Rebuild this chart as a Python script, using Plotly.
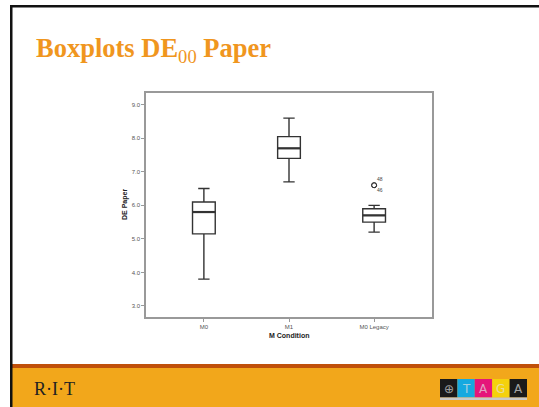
import plotly.graph_objects as go

# ---- data ----
categories = ["M0", "M1", "M0 Legacy"]
lower_whisker = [3.8, 6.7, 5.2]
q1_values = [5.15, 7.4, 5.5]
medians = [5.8, 7.7, 5.7]
q3_values = [6.1, 8.05, 5.9]
upper_whisker = [6.5, 8.6, 6.0]
outlier_category = [2, 2]
outlier_values = [6.6, 6.6]
outlier_labels = ["48", "46"]
y_ticks = [3.0, 4.0, 5.0, 6.0, 7.0, 8.0, 9.0]

W, H = 539, 407
L, R, T, B = 146, 432, 93, 317  # plot area in pixels


def px(x):
    return (x - L) / (R - L)


def py(y):
    return (B - y) / (B - T)


xs = list(range(len(categories)))
box_w = 0.267
line_col = "#333333"

fig = go.Figure()
fig.add_trace(go.Box(
    x=xs, q1=q1_values, median=medians, q3=q3_values,
    lowerfence=lower_whisker, upperfence=upper_whisker,
    width=box_w, whiskerwidth=0.5,
    fillcolor="white", line=dict(color=line_col, width=1.4),
    boxpoints=False, showlegend=False, hoverinfo="skip",
))
# thicker median lines (SPSS style)
for xi, m in zip(xs, medians):
    fig.add_trace(go.Scatter(
        x=[xi - box_w / 2, xi + box_w / 2], y=[m, m], mode="lines",
        line=dict(color=line_col, width=2.2), showlegend=False, hoverinfo="skip"))
# outliers
fig.add_trace(go.Scatter(
    x=outlier_category, y=outlier_values, mode="markers",
    marker=dict(symbol="circle-open", size=5, color=line_col, line=dict(width=1)),
    showlegend=False, hoverinfo="skip"))
for i, (xc, yv, lab) in enumerate(zip(outlier_category, outlier_values, outlier_labels)):
    fig.add_annotation(x=xc, y=yv, text=lab, showarrow=False, xanchor="center", yanchor="middle",
                       xshift=6, yshift=6 if i == 0 else -5,
                       font=dict(size=5, color="#444", family="Liberation Sans"))

axis_col = "#999999"
fig.update_xaxes(range=[-0.68, 2.68], tickvals=xs, ticktext=categories,
                 showline=True, mirror=True, linecolor=axis_col, linewidth=1.5,
                 ticks="outside", ticklen=3, tickcolor=axis_col,
                 tickfont=dict(size=6, color="#555", family="Liberation Sans"),
                 showgrid=False, zeroline=False, fixedrange=True)
fig.update_yaxes(range=[2.67, 9.35], tickvals=y_ticks, tickformat=".1f",
                 showline=True, mirror=True, linecolor=axis_col, linewidth=1.5,
                 ticks="outside", ticklen=3, tickcolor=axis_col,
                 tickfont=dict(size=6, color="#555", family="Liberation Sans"),
                 showgrid=False, zeroline=False, fixedrange=True)

# axis titles
fig.add_annotation(xref="paper", yref="paper", x=px(125), y=py(205), text="<b>DE Paper</b>",
                   textangle=-90, showarrow=False, xanchor="center", yanchor="middle",
                   font=dict(size=7, color="#222", family="Liberation Sans"))
fig.add_annotation(xref="paper", yref="paper", x=px(289), y=py(335.5), text="<b>M Condition</b>",
                   showarrow=False, xanchor="center", yanchor="middle",
                   font=dict(size=7, color="#222", family="Liberation Sans"))

# slide title
fig.add_annotation(xref="paper", yref="paper", x=px(34), y=py(50), xanchor="left", yanchor="middle",
                   text="<b>Boxplots DE</b><sub>00</sub><b> Paper</b>", showarrow=False,
                   font=dict(size=26.5, color="#F0961E", family="Liberation Serif"))

shapes = []
# footer bars
shapes.append(dict(type="rect", xref="paper", yref="paper", x0=px(12), x1=px(W), y0=py(368), y1=py(H),
                   fillcolor="#F2A71B", line=dict(width=0), layer="below"))
shapes.append(dict(type="rect", xref="paper", yref="paper", x0=px(12), x1=px(W), y0=py(364), y1=py(368),
                   fillcolor="#C0500A", line=dict(width=0), layer="below"))
# slide borders
shapes.append(dict(type="rect", xref="paper", yref="paper", x0=px(10), x1=px(W), y0=py(5), y1=py(7.5),
                   fillcolor="#111", line=dict(width=0)))
shapes.append(dict(type="rect", xref="paper", yref="paper", x0=px(10), x1=px(12.5), y0=py(5), y1=py(H),
                   fillcolor="#111", line=dict(width=0)))
# TAGA logo squares
logo_cols = ["#1a1a1a", "#16A9E0", "#E5157A", "#F5D10C", "#1a1a1a"]
logo_txt = ["⊕", "T", "A", "G", "A"]
sq = 17.4
for i, c in enumerate(logo_cols):
    x0 = 440 + i * sq
    shapes.append(dict(type="rect", xref="paper", yref="paper", x0=px(x0), x1=px(x0 + sq),
                       y0=py(379), y1=py(397.5), fillcolor=c, line=dict(width=0)))
    fig.add_annotation(xref="paper", yref="paper", x=px(x0 + sq / 2), y=py(388.5), text=logo_txt[i],
                       showarrow=False, xanchor="center", yanchor="middle",
                       font=dict(size=12, color="rgba(225,225,225,0.7)",
                                 family="DejaVu Sans"))
shapes.append(dict(type="rect", xref="paper", yref="paper", x0=px(440), x1=px(440 + 5 * sq),
                   y0=py(397.5), y1=py(400), fillcolor="#c8c8c8", line=dict(width=0)))

# RIT text
fig.add_annotation(xref="paper", yref="paper", x=px(32), y=py(389), xanchor="left", yanchor="middle",
                   text="R·I·T", showarrow=False,
                   font=dict(size=18, color="#222", family="Liberation Serif"))

fig.update_layout(width=W, height=H, margin=dict(l=L, r=W - R, t=T, b=H - B),
                  paper_bgcolor="white", plot_bgcolor="white", shapes=shapes)

fig.write_html("out.html")
